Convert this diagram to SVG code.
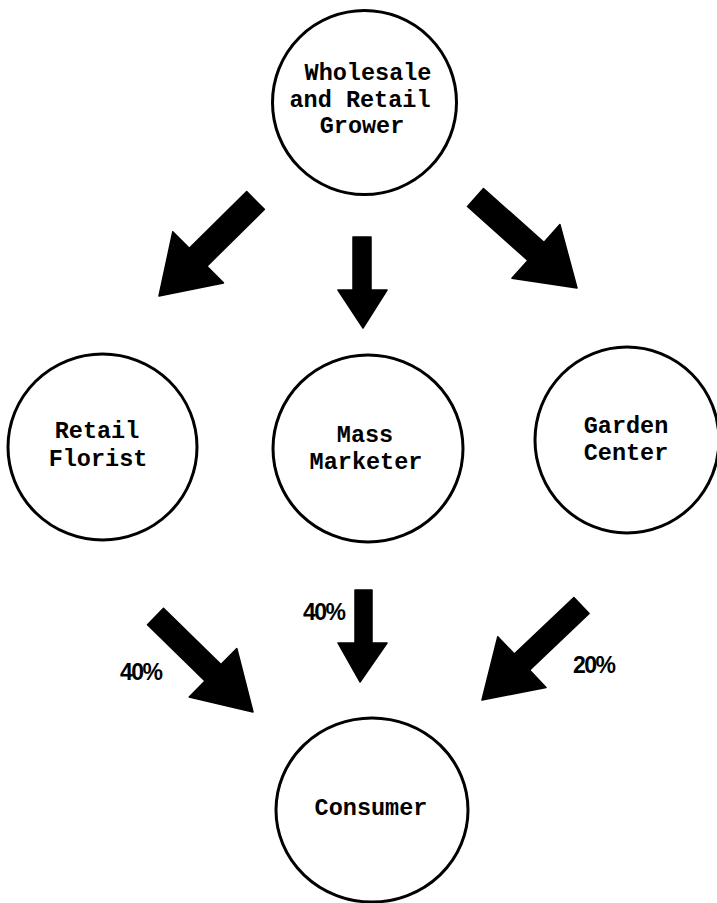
<svg xmlns="http://www.w3.org/2000/svg" width="717" height="903" viewBox="0 0 717 903">
  <style>
    .node { fill: #ffffff; stroke: #000000; stroke-width: 3; }
    .label { font-family: "Liberation Mono", "Courier New", monospace; font-size: 23.5px; font-weight: bold; fill: #000000; text-anchor: middle; }
    .pct { font-family: "Liberation Sans", Arial, sans-serif; font-size: 23px; font-weight: bold; fill: #000000; letter-spacing: -1.5px; }
    .arrow { fill: #000000; stroke: #000000; stroke-width: 1.5; stroke-linejoin: round; }
  </style>
  <rect x="0" y="0" width="717" height="903" fill="#ffffff"/>

  <g id="connectors">
    <polygon id="arrow-grower-florist" class="arrow" points="246.7,191.6 264.3,209.4 206.9,266.2 223.4,282.9 159,296 172.8,231.7 189.3,248.4"/>
    <polygon id="arrow-grower-mass" class="arrow" points="353,237 371,237 371,290 387,290 363,328 338,290 353,290"/>
    <polygon id="arrow-grower-garden" class="arrow" points="483.5,188.5 543.9,242.4 559.9,224.5 577,288 511.9,278.3 527.9,260.4 467.5,206.5"/>
    <polygon id="arrow-florist-consumer" class="arrow" points="163.5,608.3 221,664.6 236.8,648.5 253,712 189.2,697.1 205,681 147.5,624.7"/>
    <polygon id="arrow-mass-consumer" class="arrow" points="355,590 372,590 372,643 387,643 360,682 338,643 355,643"/>
    <polygon id="arrow-garden-consumer" class="arrow" points="573.9,597.5 589.1,613.5 529.5,670.1 546,687.5 482,700 497.8,636.7 514.3,654.1"/>
    <text class="pct" x="120" y="680">40%</text>
    <text class="pct" x="303" y="620">40%</text>
    <text class="pct" x="573" y="673">20%</text>
  </g>

  <g id="node-grower">
    <circle class="node" cx="364.5" cy="102.5" r="92"/>
    <text class="label" x="368" y="80">Wholesale</text>
    <text class="label" x="360" y="107">and Retail</text>
    <text class="label" x="362" y="133">Grower</text>
  </g>

  <g id="node-florist">
    <ellipse class="node" cx="102.5" cy="447" rx="94.5" ry="93"/>
    <text class="label" x="97" y="438">Retail</text>
    <text class="label" x="98" y="466">Florist</text>
  </g>

  <g id="node-mass">
    <ellipse class="node" cx="368" cy="448.5" rx="95" ry="93.5"/>
    <text class="label" x="365" y="442">Mass</text>
    <text class="label" x="366" y="469">Marketer</text>
  </g>

  <g id="node-garden">
    <ellipse class="node" cx="627" cy="440" rx="92" ry="93"/>
    <text class="label" x="626" y="433">Garden</text>
    <text class="label" x="626" y="460">Center</text>
  </g>

  <g id="node-consumer">
    <ellipse class="node" cx="372" cy="810" rx="96" ry="92"/>
    <text class="label" x="371" y="815">Consumer</text>
  </g>
</svg>
